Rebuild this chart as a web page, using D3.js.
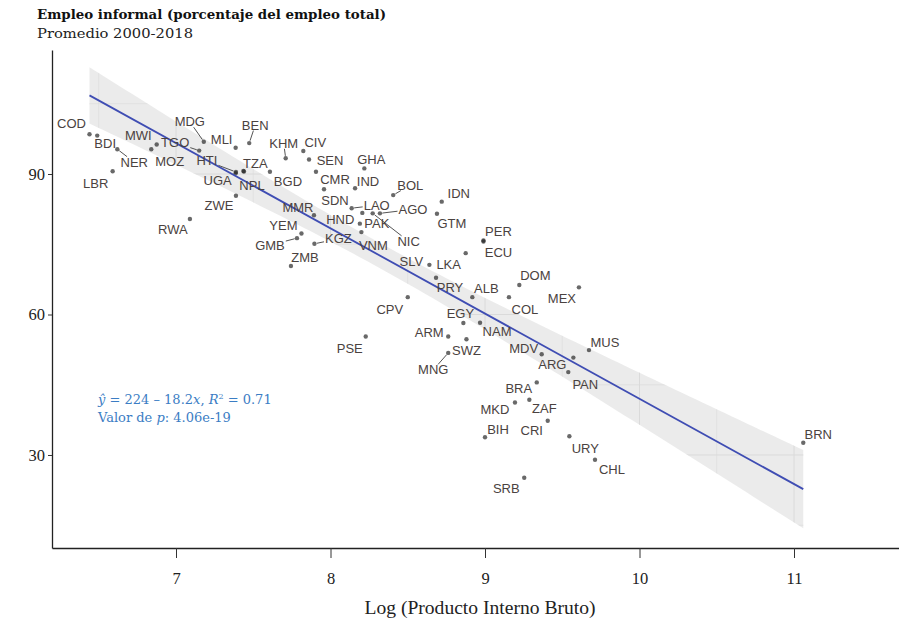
<!DOCTYPE html>
<html>
<head>
<meta charset="utf-8">
<script src="https://cdn.jsdelivr.net/npm/d3@7/dist/d3.min.js"></script>
<style>
  html, body { margin: 0; padding: 0; background: #fff; }
  svg { display: block; }
</style>
</head>
<body>
<svg id="chart" width="899" height="621"></svg>
<script>
// Country codes, log GDP per capita and informal employment share (avg 2000-2018)
const codes = ["COD","BDI","NER","LBR","MWI","MOZ","TGO","MDG","MLI","BEN",
  "HTI","UGA","NPL","TZA","ZWE","RWA","KHM","CIV","SEN","GHA",
  "BGD","CMR","SDN","IND","BOL","IDN","LAO","HND","NIC","AGO",
  "GTM","PAK","VNM","MMR","KGZ","YEM","GMB","ZMB","SLV","LKA",
  "PER","ECU","PRY","DOM","MEX","ALB","COL","CPV","EGY","NAM",
  "PSE","ARM","SWZ","MNG","MDV","ARG","PAN","MUS","BRA","MKD",
  "ZAF","CRI","BIH","URY","CHL","SRB","BRN"];
const logGdp = [6.44,6.49,6.62,6.59,6.84,6.875,7.15,7.18,7.386,7.474,
  7.388,7.386,7.44,7.436,7.388,7.09,7.71,7.824,7.861,8.219,
  7.608,7.906,7.958,8.159,8.406,8.72,8.137,8.206,8.273,8.32,
  8.689,8.19,8.20,7.893,7.896,7.812,7.783,7.744,8.64,8.875,
  8.99,8.99,8.683,9.222,9.608,8.918,9.155,8.50,8.86,8.968,
  8.228,8.762,8.88,8.762,9.367,9.572,9.539,9.673,9.335,9.194,
  9.287,9.406,9.0,9.546,9.712,9.254,11.06];
const informal = [98.5,98.2,95.3,90.6,95.3,96.3,95.0,96.9,95.6,96.6,
  90.43,90.15,90.53,90.64,85.37,80.4,93.35,94.9,93.1,91.2,
  90.49,90.49,86.73,86.95,85.5,84.1,82.7,81.7,81.6,81.6,
  81.5,79.4,77.6,81.2,75.1,77.3,76.3,70.35,70.6,73.1,
  75.8,75.6,67.85,66.3,65.8,63.7,63.7,63.7,58.2,58.25,
  55.3,55.3,54.7,51.8,51.5,50.8,47.7,52.4,45.5,41.2,
  41.8,37.3,33.8,34.0,29.0,25.15,32.6];

// Label placement relative to each point (pixels) and which labels get a leader line
const labelDx = [-18,8,17,-17,-13,13,-24,-14,-14,6,
  -29,-18,8,12,-17,-17,-2,12,21,7,
  18,19,11,13,17,17,25,-22,36,33,
  15,17,12,-16,24,-18,-27,14,-18,-17,
  15,15,14,16,-17,14,16,-18,-3,17,
  -16,-19,0,-15,-18,-21,17,16,-18,-20,
  15,-16,13,16,17,-18,15];
const labelDy = [-11,8,13,12,-14,17,-8,-20,-8,-18,
  -11,7,13.5,-8,10,11,-15,-9,1,-9,
  10,8,11,-7,-10,-8,-3,7,28,-4,
  10,0,13,-8,-5,-8,7,-9,-3,11,
  -9,11,10,-9,11,-9,12,12,-9,9,
  12,-4,11,17,-6,7,12,-8,6,7,
  9,10,-8,12,10,11,-8];
const leaderLines = ["NER","TGO","MDG","BEN","HTI","KHM","BOL","LAO","AGO","NIC","KGZ","GMB","MNG"];

// Axis ticks and fitted model
const xTicks = [7, 8, 9, 10, 11];
const yTicks = [30, 60, 90];
const fitIntercept = 224;
const fitSlope = -18.2;
const fitR2 = 0.71;
const fitP = "4.06e-19";

const title = "Empleo informal (porcentaje del empleo total)";
const subtitle = "Promedio 2000-2018";
const xTitle = "Log (Producto Interno Bruto)";

const svg = d3.select("#chart");
const plot = { left: 52, right: 899, top: 50, bottom: 548 };

const x = d3.scaleLinear().domain([6.1974, 11.6796]).range([plot.left, plot.right]);
const y = d3.scaleLinear().domain([10.14, 116.48]).range([plot.bottom, plot.top]);

const data = codes.map((c, i) => ({ code: c, gx: logGdp[i], inf: informal[i], dx: labelDx[i], dy: labelDy[i] }));

// Titles
svg.append("text").attr("x", 37).attr("y", 19)
  .attr("font-family", "DejaVu Serif").attr("font-weight", "bold").attr("font-size", 13)
  .attr("textLength", 349).attr("lengthAdjust", "spacingAndGlyphs")
  .attr("fill", "#111").text(title);
svg.append("text").attr("x", 37).attr("y", 38)
  .attr("font-family", "DejaVu Serif").attr("font-size", 13.5)
  .attr("textLength", 156).attr("lengthAdjust", "spacingAndGlyphs")
  .attr("fill", "#222").text(subtitle);

// Confidence band around the fitted line
const n = data.length;
const xbar = d3.mean(data, d => d.gx);
const sxx = d3.sum(data, d => (d.gx - xbar) ** 2);
const sse = d3.sum(data, d => (d.inf - (fitIntercept + fitSlope * d.gx)) ** 2);
const s = Math.sqrt(sse / (n - 2));
const tCrit = 1.997;
const xMin = d3.min(data, d => d.gx), xMax = d3.max(data, d => d.gx);
const bandPts = d3.range(0, 101).map(k => {
  const gx = xMin + (xMax - xMin) * k / 100;
  const fit = fitIntercept + fitSlope * gx;
  const half = tCrit * s * Math.sqrt(1 / n + (gx - xbar) ** 2 / sxx);
  return { gx, fit, lo: fit - half, hi: fit + half };
});
const bandArea = d3.area().x(d => x(d.gx)).y0(d => y(d.lo)).y1(d => y(d.hi));

svg.append("clipPath").attr("id", "bandClip").append("path").attr("d", bandArea(bandPts));

svg.append("path").attr("d", bandArea(bandPts)).attr("fill", "#999").attr("fill-opacity", 0.2);

// Faint panel grid, only visible through the band
const grid = svg.append("g").attr("clip-path", "url(#bandClip)").attr("stroke", "#dadada").attr("stroke-width", 1);
d3.range(6.5, 11.6, 0.5).forEach(v => {
  grid.append("line").attr("x1", x(v)).attr("x2", x(v)).attr("y1", plot.top).attr("y2", plot.bottom)
    .attr("stroke-width", Number.isInteger(v) ? 1 : 0.6);
});
d3.range(15, 116, 15).forEach(v => {
  grid.append("line").attr("y1", y(v)).attr("y2", y(v)).attr("x1", plot.left).attr("x2", plot.right)
    .attr("stroke-width", v % 30 === 0 ? 1 : 0.6);
});

// Points
svg.append("g").selectAll("circle").data(data).join("circle")
  .attr("cx", d => x(d.gx)).attr("cy", d => y(d.inf)).attr("r", 2.2)
  .attr("fill", "#222").attr("fill-opacity", 0.68);

// Fitted line
svg.append("line")
  .attr("x1", x(xMin)).attr("y1", y(fitIntercept + fitSlope * xMin))
  .attr("x2", x(xMax)).attr("y2", y(fitIntercept + fitSlope * xMax))
  .attr("stroke", "#3f4db3").attr("stroke-width", 1.8);

// Country labels with leader lines
const labelG = svg.append("g");
data.forEach(d => {
  const px = x(d.gx), py = y(d.inf);
  const lx = px + d.dx, ly = py + d.dy;
  const t = labelG.append("text").attr("x", lx).attr("y", ly)
    .attr("text-anchor", "middle").attr("dominant-baseline", "central")
    .attr("font-family", "Liberation Sans, Arial, sans-serif").attr("font-size", 13)
    .attr("fill", "#4a4240").text(d.code);
  if (leaderLines.includes(d.code)) {
    const bb = t.node().getBBox();
    const hw = bb.width / 2 + 1, hh = 5.5;
    const vx = px - lx, vy = py - ly;
    const sc = Math.min(Math.abs(vx) > 0 ? hw / Math.abs(vx) : Infinity, Math.abs(vy) > 0 ? hh / Math.abs(vy) : Infinity);
    const sx = lx + vx * sc, sy = ly + vy * sc;
    const len = Math.hypot(px - sx, py - sy);
    if (len > 3) {
      const ex = px - (px - sx) / len * 2.5, ey = py - (py - sy) / len * 2.5;
      labelG.append("line").attr("x1", sx).attr("y1", sy).attr("x2", ex).attr("y2", ey)
        .attr("stroke", "#555").attr("stroke-width", 1);
    }
  }
});

// Fit annotation
const ann = svg.append("text").attr("x", 98).attr("y", 404)
  .attr("font-family", "DejaVu Serif").attr("font-size", 13).attr("fill", "#3b7dc4");
ann.append("tspan").attr("font-style", "italic").text("ŷ");
ann.append("tspan").text(" = " + fitIntercept + " – " + Math.abs(fitSlope) + "");
ann.append("tspan").attr("font-style", "italic").text("x");
ann.append("tspan").text(", ");
ann.append("tspan").attr("font-style", "italic").text("R");
ann.append("tspan").attr("font-size", 8).attr("dy", -5).text("2");
ann.append("tspan").attr("dy", 5).text(" = " + fitR2);
const ann2 = svg.append("text").attr("x", 98).attr("y", 422)
  .attr("font-family", "DejaVu Serif").attr("font-size", 13).attr("fill", "#3b7dc4");
ann2.append("tspan").text("Valor de ");
ann2.append("tspan").attr("font-style", "italic").text("p");
ann2.append("tspan").text(": " + fitP);

// Axes
const xAxis = svg.append("g").attr("transform", `translate(0,${plot.bottom})`)
  .call(d3.axisBottom(x).tickValues(xTicks).tickSize(10).tickSizeOuter(0).tickPadding(14).tickFormat(d3.format("d")));
xAxis.select(".domain").attr("stroke", "#222").attr("stroke-width", 1.3);
xAxis.selectAll(".tick line").attr("stroke", "#333");
xAxis.selectAll("text").attr("font-family", "Liberation Serif").attr("font-size", 16.5).attr("fill", "#222");

const yAxis = svg.append("g").attr("transform", `translate(${plot.left},0)`)
  .call(d3.axisLeft(y).tickValues(yTicks).tickSize(4).tickSizeOuter(0).tickPadding(3));
yAxis.select(".domain").attr("stroke", "#222").attr("stroke-width", 1.3);
yAxis.selectAll(".tick line").attr("stroke", "#333");
yAxis.selectAll("text").attr("font-family", "Liberation Serif").attr("font-size", 16.5).attr("fill", "#222");

svg.append("text").attr("x", 480).attr("y", 614)
  .attr("text-anchor", "middle").attr("font-family", "Liberation Serif").attr("font-size", 18.5)
  .attr("textLength", 231).attr("lengthAdjust", "spacingAndGlyphs")
  .attr("fill", "#222").text(xTitle);
</script>
</body>
</html>
